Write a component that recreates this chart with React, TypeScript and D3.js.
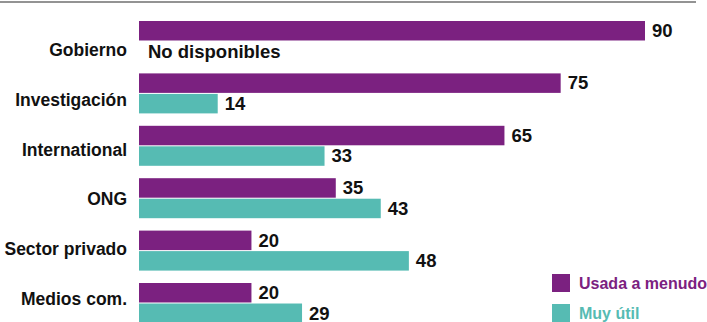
import React from "react";
import * as d3 from "d3";

const categories = ["Gobierno", "Investigación", "International", "ONG", "Sector privado", "Medios com."];
const usadaValues: (number | null)[] = [90, 75, 65, 35, 20, 20];
const utilValues: (number | null)[] = [null, 14, 33, 43, 48, 29];
const seriesNames = ["Usada a menudo", "Muy útil"];
const seriesColors = ["#7B2180", "#56BBB3"];
const missingLabel = "No disponibles";

const W = 707;
const H = 322;
const FONT = "'Liberation Sans', Arial, Helvetica, sans-serif";

export default function App() {
  const x = d3.scaleLinear().domain([0, 90]).range([139, 645]);
  const y = d3.scaleBand<string>().domain(categories).range([21, 323]).paddingInner(12.4 / 52.4).paddingOuter(0);
  const inner = d3.scaleBand<string>().domain(seriesNames).range([0, y.bandwidth()]).paddingInner(0.05);
  const labelY = d3.scalePoint<string>().domain(categories).range([56, 305]);
  const series = [usadaValues, utilValues];

  return (
    <svg width={W} height={H} style={{ position: "absolute", left: 0, top: 0, background: "#fff" }} fontFamily={FONT}>
      <line x1={0} x2={696} y1={2} y2={2} stroke="#6f6f6f" strokeWidth={1.5} />
      {categories.map((c, i) => {
        const gy = y(c)!;
        return (
          <g key={c}>
            <text x={127} y={labelY(c)} textAnchor="end" fontSize={17.5} fontWeight="bold" fill="#111">{c}</text>
            {series.map((vals, s) => {
              const v = vals[i];
              const by = gy + inner(seriesNames[s])!;
              const bh = inner.bandwidth();
              if (v == null) {
                return (
                  <text key={s} x={148} y={by + bh / 2 + 6.3} fontSize={18.5} fontWeight="bold" fill="#111">{missingLabel}</text>
                );
              }
              return (
                <g key={s}>
                  <rect x={x(0)} y={by} width={x(v) - x(0)} height={bh} fill={seriesColors[s]} />
                  <text x={x(v) + 7} y={by + bh / 2 + 6.3} fontSize={18.5} fontWeight="bold" fill="#111">{v}</text>
                </g>
              );
            })}
          </g>
        );
      })}
      {seriesNames.map((n, s) => (
        <g key={n}>
          <rect x={552} y={274 + s * 30} width={18} height={18} fill={seriesColors[s]} />
          <text x={579} y={289 + s * 30} fontSize={16} fontWeight="bold" fill={seriesColors[s]}>{n}</text>
        </g>
      ))}
    </svg>
  );
}
